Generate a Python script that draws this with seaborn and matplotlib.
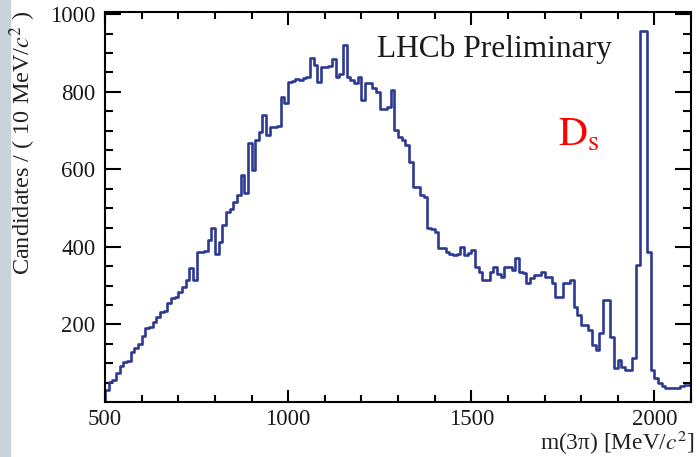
import numpy as np
import pandas as pd
import matplotlib
matplotlib.use("Agg")
import matplotlib.pyplot as plt
import seaborn as sns

# ---- data: candidates per 10 MeV bin, 500 - 2100 MeV ----
bin_edges = list(range(500, 2101, 10))
counts = [
    30, 52, 58, 75, 92, 104, 106, 130, 139, 150,            # 500-590
    170, 191, 194, 207, 218, 231, 235, 255, 268, 272,       # 600-690
    284, 297, 314, 345, 314, 387, 387, 390, 417, 448,       # 700-790
    383, 413, 456, 490, 497, 516, 533, 585, 538, 667,       # 800-890
    598, 675, 697, 740, 688, 709, 709, 711, 787, 770,       # 900-990
    825, 828, 834, 830, 835, 838, 887, 868, 825, 864,       # 1000-1090
    864, 866, 886, 838, 847, 920, 838, 830, 822, 838,       # 1100-1190
    778, 822, 822, 809, 800, 757, 757, 760, 804, 701,       # 1200-1290
    684, 675, 662, 619, 555, 555, 533, 530, 448, 446,       # 1300-1390
    438, 397, 397, 387, 383, 380, 383, 400, 378, 385,       # 1400-1490
    392, 349, 336, 314, 314, 336, 349, 330, 323, 349,       # 1500-1590
    349, 340, 371, 336, 332, 306, 319, 327, 327, 335,       # 1600-1690
    323, 323, 306, 271, 271, 306, 306, 315, 245, 224,       # 1700-1790
    198, 198, 185, 147, 134, 178, 263, 263, 168, 88,        # 1800-1890
    108, 90, 82, 82, 113, 353, 957, 957, 386, 82,           # 1900-1990
    62, 49, 40, 36, 36, 36, 37, 42, 44, 44,                 # 2000-2090
]
bin_centres = [e + 5 for e in bin_edges[:-1]]

x_ticks = [500, 1000, 1500, 2000]
y_ticks = [200, 400, 600, 800, 1000]

df = pd.DataFrame({"m": bin_centres, "n": counts})

# ---- style ----
sns.set_style("ticks")
plt.rcParams["font.family"] = ["Liberation Serif", "DejaVu Serif"]
plt.rcParams["mathtext.fontset"] = "stix"

line_col = "#2d3a92"

fig = plt.figure(figsize=(6.97, 4.57), dpi=100)
ax = fig.add_axes([105 / 697, 55 / 457, 586 / 697, 390 / 457])

# slide background strip on the left
fig.patches.append(plt.Rectangle((0, 0), 10 / 697, 1, transform=fig.transFigure,
                                 color="#c9d3dc", zorder=0))

sns.histplot(data=df, x="m", weights="n", bins=bin_edges, element="step",
             fill=False, color=line_col, linewidth=1.9, ax=ax)
# ROOT-style outline: first bin edge drawn from zero
ax.plot([bin_edges[0], bin_edges[0]], [0, counts[0]], color=line_col, lw=1.9)

ax.set_xlim(500, 2100)
ax.set_ylim(0, 1006)
ax.set_xticks(x_ticks)
ax.set_yticks(y_ticks)
ax.set_xticks(np.arange(500, 2101, 100), minor=True)
ax.set_yticks(np.arange(0, 1001, 50), minor=True)

for s in ax.spines.values():
    s.set_visible(True)
    s.set_linewidth(1.5)
    s.set_color("black")

ax.tick_params(which="both", direction="in", top=True, right=True,
               width=1.5, labelsize=16.5, color="black", labelcolor="#1a1a1a")
ax.tick_params(axis="x", which="major", length=9, pad=5)
ax.tick_params(axis="x", which="minor", length=5)
ax.tick_params(axis="y", which="major", length=11.5, pad=7)
ax.tick_params(axis="y", which="minor", length=5.5)

ax.set_xlabel("")
ax.set_ylabel("")
fig.text(694 / 697, 1 - 443 / 457, "m(3π) [MeV/$c^2$]", ha="right", va="center",
         fontsize=16.8, color="#222222")
fig.text(23 / 697, 1 - 10 / 457, "Candidates / ( 10 MeV/$c^2$ )", rotation=90,
         ha="center", va="top", fontsize=17.5, color="#222222")

ax.text(1242, 890, "LHCb Preliminary", fontsize=22.6, color="#1a1a1a",
        ha="left", va="baseline")
ax.text(1737, 663, r"$\mathrm{D_s}$", fontsize=29, color="#ff0000",
        ha="left", va="baseline")

fig.savefig("out.png", dpi=100)
